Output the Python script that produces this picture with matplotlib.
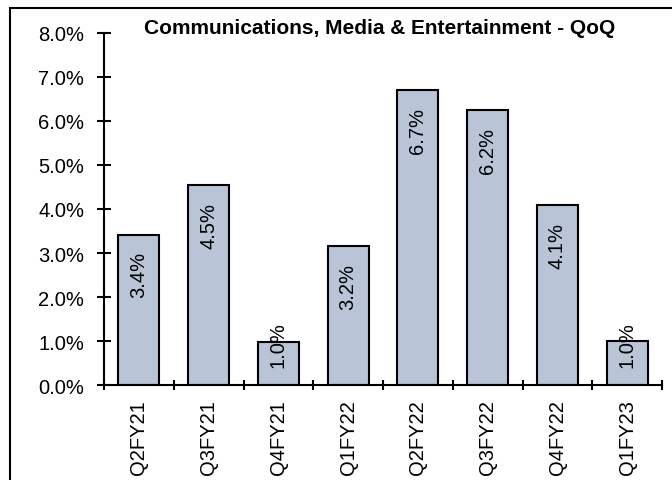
import matplotlib
matplotlib.use("Agg")
import matplotlib.pyplot as plt
from matplotlib.patches import Rectangle
from matplotlib.ticker import FixedLocator, PercentFormatter

categories = ["Q2FY21", "Q3FY21", "Q4FY21", "Q1FY22", "Q2FY22", "Q3FY22", "Q4FY22", "Q1FY23"]
values = [3.42, 4.54, 0.97, 3.16, 6.70, 6.24, 4.09, 0.99]
title = "Communications, Media & Entertainment - QoQ"

plt.rcParams['font.family'] = ['Liberation Sans', 'DejaVu Sans']
FS = 14.5

fig = plt.figure(figsize=(6.72, 4.81), dpi=100)
ax = fig.add_axes([104/672, 1-386/481, (662-104)/672, (386-34)/481])

x = list(range(len(categories)))
ax.bar(x, values, width=0.59, color="#B9C4D7", edgecolor="black", linewidth=1.5, zorder=2)

for xi, v in zip(x, values):
    ytop = max(v - 0.38, 1.45)
    ax.text(xi, ytop, f"{v:.1f}%", rotation=90, ha="center", va="top",
            fontsize=FS, color="black", zorder=3)

ax.set_xlim(-0.5, len(categories) - 0.5)
ax.set_ylim(0, 8)
ax.set_yticks([i for i in range(9)])
ax.yaxis.set_major_formatter(PercentFormatter(decimals=1))
ax.set_xticks(x)
ax.set_xticklabels(categories, rotation=90, fontsize=FS)
ax.xaxis.set_minor_locator(FixedLocator([i - 0.5 for i in range(len(categories) + 1)]))
ax.tick_params(axis="x", which="major", length=0, pad=10)
ax.tick_params(axis="x", which="minor", direction="inout", length=7.5, width=1.5)
ax.tick_params(axis="y", which="major", direction="inout", length=9.5, width=1.5, labelsize=FS, pad=9.5)

for s in ["top", "right"]:
    ax.spines[s].set_visible(False)
for s in ["left", "bottom"]:
    ax.spines[s].set_linewidth(1.5)
    ax.spines[s].set_zorder(4)

fig.text(380/672, 1-28/481, title, ha="center", va="center", fontsize=15, fontweight="bold")

fig.patches.append(Rectangle((10/672, -0.1), 1.2, 1.1 - 8.5/481, transform=fig.transFigure,
                             fill=False, edgecolor="black", linewidth=1.5))

fig.savefig("out.png", dpi=100)
